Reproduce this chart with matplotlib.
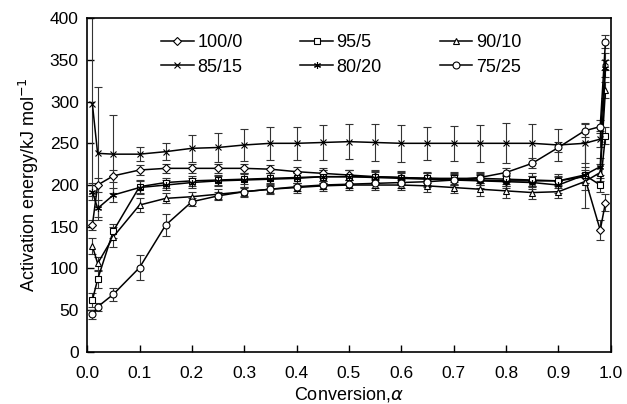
import matplotlib.pyplot as plt

plt.rcParams['font.family'] = ['Liberation Sans', 'DejaVu Sans']

# conversion points
alpha = [0.01, 0.02, 0.05, 0.1, 0.15, 0.2, 0.25, 0.3, 0.35, 0.4, 0.45, 0.5,
         0.55, 0.6, 0.65, 0.7, 0.75, 0.8, 0.85, 0.9, 0.95, 0.98, 0.99]

labels = ['100/0', '95/5', '90/10', '85/15', '80/20', '75/25']
markers = ['D', 's', '^', 'x', (6, 2, 0), 'o']

e_100_0 = [152, 200, 211, 218, 220, 220, 220, 220, 219, 216, 214, 212,
           210, 209, 208, 207, 206, 205, 205, 205, 210, 146, 179]
e_95_5 = [62, 87, 145, 198, 203, 205, 206, 207, 208, 209, 210, 210,
          210, 209, 208, 208, 208, 207, 206, 205, 212, 200, 259]
e_90_10 = [127, 106, 138, 176, 184, 186, 189, 192, 195, 197, 199, 200,
           200, 200, 199, 197, 195, 193, 191, 192, 204, 215, 314]
e_85_15 = [297, 238, 237, 237, 240, 244, 245, 248, 250, 250, 251, 252,
           251, 250, 250, 250, 250, 250, 250, 248, 250, 255, 348]
e_80_20 = [192, 172, 188, 197, 200, 203, 205, 206, 207, 208, 210, 210,
           209, 208, 207, 206, 205, 204, 203, 200, 212, 222, 340]
e_75_25 = [45, 54, 69, 101, 152, 180, 187, 192, 195, 198, 200, 201,
           202, 203, 204, 206, 209, 215, 226, 245, 265, 270, 372]

err_100_0 = [6, 8, 7, 6, 5, 5, 5, 5, 5, 6, 6, 6, 6, 6, 6, 6, 6, 6, 6, 6, 8, 12, 10]
err_95_5 = [8, 10, 8, 8, 6, 6, 6, 6, 6, 6, 8, 8, 8, 8, 8, 8, 8, 8, 8, 8, 10, 8, 10]
err_90_10 = [10, 8, 12, 8, 6, 6, 6, 6, 6, 6, 6, 6, 6, 6, 7, 7, 8, 8, 8, 8, 10, 10, 10]
err_85_15 = [110, 80, 47, 8, 10, 16, 17, 19, 20, 20, 21, 21, 22, 22, 20, 21, 22,
             24, 23, 19, 24, 10, 10]
err_80_20 = [10, 10, 8, 8, 6, 6, 6, 8, 8, 8, 8, 8, 8, 8, 8, 8, 8, 8, 8, 10, 40, 10, 10]
err_75_25 = [5, 5, 8, 15, 13, 5, 5, 5, 5, 5, 5, 5, 5, 6, 6, 6, 6, 6, 6, 6, 8, 8, 8]

series = [e_100_0, e_95_5, e_90_10, e_85_15, e_80_20, e_75_25]
errors = [err_100_0, err_95_5, err_90_10, err_85_15, err_80_20, err_75_25]

fig = plt.figure(figsize=(6.27, 4.04), dpi=100)
ax = fig.add_axes([0.139, 0.129, 0.835, 0.826])

handles = []
for y, err, m, lab in zip(series, errors, markers, labels):
    ms = 3.6 if m == 'D' else 5
    h = ax.errorbar(alpha, y, yerr=err, color='black', lw=1.1, marker=m,
                    ms=ms, mfc='white', mec='black', mew=0.8,
                    ecolor='#333333', elinewidth=0.8, capsize=3, capthick=0.8,
                    label=lab)
    handles.append(h[0])  # just the line, no error bars in the legend

# legend filled column-wise, so reorder to get rows 100/0,95/5,90/10 / 85/15,80/20,75/25
order = [0, 3, 1, 4, 2, 5]
ax.legend([handles[i] for i in order], [labels[i] for i in order],
          ncol=3, loc='upper center', bbox_to_anchor=(0.485, 1.0),
          frameon=False, fontsize=13, handlelength=1.8, handletextpad=0.2,
          columnspacing=3.2, labelspacing=0.4)

ax.set_xlim(0, 1.0)
ax.set_ylim(0, 400)
ax.set_xticks([i / 10 for i in range(11)])
ax.set_xticklabels([f'{i / 10:.1f}' for i in range(11)])
ax.set_yticks(range(0, 401, 50))
ax.tick_params(direction='in', length=5, labelsize=12.5, width=1)
ax.tick_params(axis='y', pad=6)
ax.tick_params(axis='x', pad=10)
for s in ax.spines.values():
    s.set_linewidth(1.2)

ax.set_xlabel(r'Conversion,$\alpha$', fontsize=13, labelpad=3)
ax.set_ylabel(r'Activation energy/kJ mol$^{-1}$', fontsize=13, labelpad=6)

fig.savefig('out.png', dpi=100)
